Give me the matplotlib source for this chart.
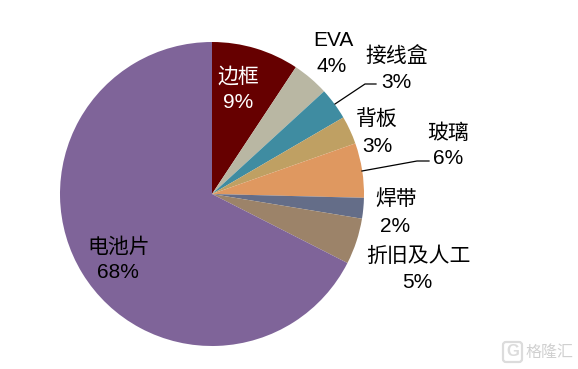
import matplotlib
matplotlib.use("Agg")
import matplotlib.pyplot as plt
from matplotlib.patches import FancyBboxPatch

plt.rcParams['font.family'] = ['Liberation Sans', 'Noto Sans CJK SC', 'DejaVu Sans']

names = ["边框", "EVA", "接线盒", "背板", "玻璃", "焊带", "折旧及人工", "电池片"]
# slice shares, the printed labels are rounded
shares = [9.3, 3.9, 3.4, 3.0, 5.8, 2.2, 4.9, 67.5]
pct_labels = ["9%", "4%", "3%", "3%", "6%", "2%", "5%", "68%"]
colors = ["#660000", "#B9B7A3", "#3F8CA1", "#BFA063", "#DF9860", "#646D88", "#9C8369", "#7F6499"]

W, H = 578, 369
fig = plt.figure(figsize=(W/100, H/100), dpi=100)
ax = fig.add_axes([0, 0, 1, 1])

ax.pie(shares, colors=colors, startangle=90, counterclock=False,
       center=(212, H-194), radius=152, frame=True,
       wedgeprops=dict(linewidth=0))
ax.set_xlim(0, W)
ax.set_ylim(0, H)
ax.set_aspect("equal")
ax.axis("off")

# label centres in picture pixels: name line, percent line
name_pos = [(238, 77), (333, 41), (397, 57), (377, 119), (448, 133), (396, 199), (418, 256), (119, 247)]
pct_pos = [(238, 103), (332, 66), (396, 83), (377, 146), (448, 159), (395, 226), (417, 283), (118, 273)]
for i in range(len(names)):
    c = "white" if i == 0 else "black"
    ax.text(name_pos[i][0], H-name_pos[i][1], names[i], ha="center", va="center", fontsize=15, color=c)
    ax.text(pct_pos[i][0], H-pct_pos[i][1], pct_labels[i], ha="center", va="center", fontsize=15, color=c)

# leader lines
ax.plot([335, 365, 376], [H-104, H-84, H-84], color="black", lw=0.9)
ax.plot([362, 417, 429], [H-171, H-161, H-161], color="black", lw=0.9)

# watermark
ax.add_patch(FancyBboxPatch((505, H-360), 15, 16, boxstyle="round,pad=2,rounding_size=3",
                            fc="none", ec="#dcdcdc", lw=1.6))
ax.text(512.5, H-352, "G", ha="center", va="center", fontsize=12, color="#dcdcdc", fontweight="bold")
ax.text(549.5, H-352, "格隆汇", ha="center", va="center", fontsize=11.5, color="#d0d0d0")

fig.savefig("out.png", dpi=100)
